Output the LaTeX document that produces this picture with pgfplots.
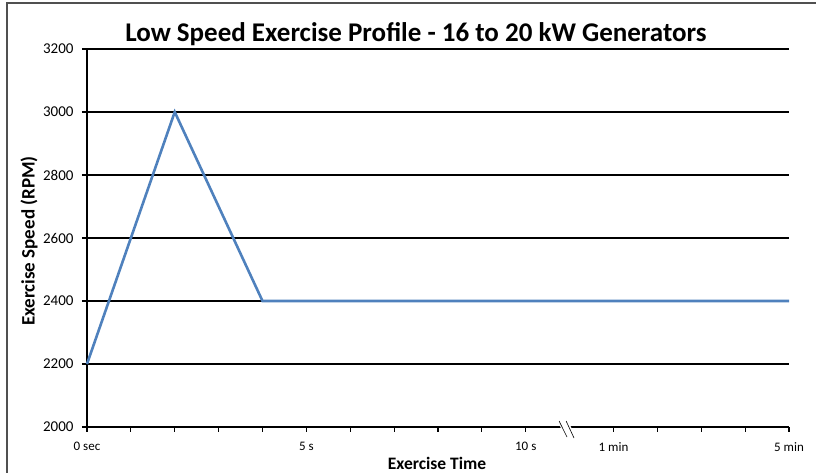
\documentclass[border=0pt]{standalone}
\usepackage{fontspec}
\setmainfont{Carlito}
\usepackage{pgfplots}
\pgfplotsset{compat=1.18}
\definecolor{serblue}{RGB}{79,129,189}
\definecolor{framegray}{RGB}{80,80,80}
\begin{document}
\begin{tikzpicture}[x=1pt,y=1pt]
\useasboundingbox (0,0) rectangle (816,473);
\draw[framegray, line width=1.6pt] (7,0) -- (7,470) -- (816,470);
\begin{axis}[
  at={(87pt,46pt)}, anchor=south west,
  scale only axis, width=702pt, height=378pt,
  xmin=0, xmax=16, ymin=2000, ymax=3200,
  axis x line*=bottom, axis y line*=left,
  axis line style={black, line width=1.2pt},
  ytick={2000,2200,...,3200},
  yticklabels={2000,2200,2400,2600,2800,3000,3200},
  xtick={0,1,2,3,4,5,6,7,8,9,10,12,13,14,15,16},
  xticklabels={0 sec,,,,,5 s,,,,,10 s,1 min,,,,5 min},
  tick align=outside,
  major tick length=5pt,
  tick style={black, line width=1.2pt},
  ymajorgrids, major grid style={black, line width=1.2pt},
  xticklabel style={font=\fontsize{13}{15}\selectfont, yshift=-7pt},
  yticklabel style={font=\fontsize{15}{17}\selectfont, xshift=-5pt},
  clip=false,
]
\addplot[serblue, line width=2.6pt, line join=miter] coordinates {
  (0,2200) (2,3000) (4,2400) (16,2400)
};
\fill[white] (axis cs:10.72,2022) -- (axis cs:10.96,2022) -- (axis cs:11.14,1965) -- (axis cs:10.90,1965) -- cycle;
\draw[black, line width=0.6pt] (axis cs:10.76,2019) -- (axis cs:10.94,1968);
\draw[black, line width=0.6pt] (axis cs:10.92,2019) -- (axis cs:11.10,1965);
\end{axis}
\node[font=\bfseries\fontsize{27}{31}\selectfont, anchor=base] at (416,431) {Low Speed Exercise Profile - 16 to 20 kW Generators};
\node[font=\bfseries\fontsize{17.5}{20}\selectfont] at (437,10) {Exercise Time};
\node[font=\bfseries\fontsize{19}{22}\selectfont, rotate=90] at (29,232) {Exercise Speed (RPM)};
\end{tikzpicture}
\end{document}
